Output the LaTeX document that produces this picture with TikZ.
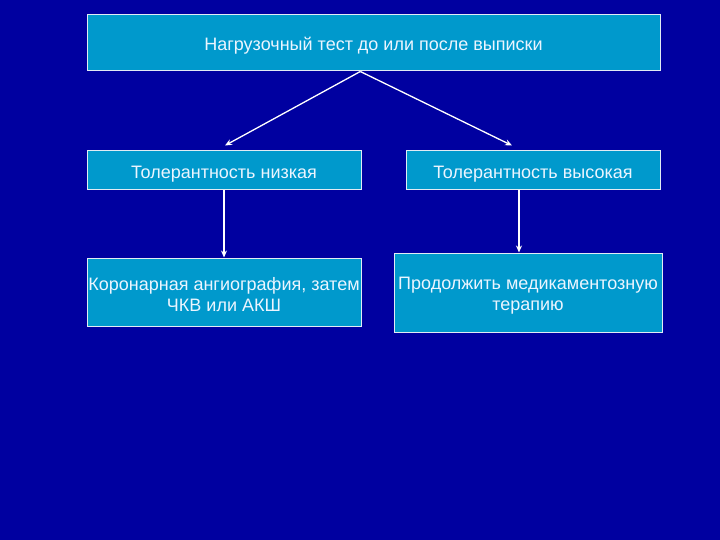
\documentclass[tikz,border=0pt]{standalone}
\usepackage{fontspec}
\setmainfont{Liberation Sans}
\usetikzlibrary{arrows.meta,calc}
\definecolor{bg}{RGB}{0,0,160}
\definecolor{boxfill}{RGB}{0,153,204}
\definecolor{boxline}{RGB}{225,235,245}
\definecolor{txt}{RGB}{235,245,255}
\newcommand\myup{\rule{0pt}{19pt}}
\begin{document}
\begin{tikzpicture}[x=1pt,y=-1pt,
  box/.style={draw=boxline, line width=1pt, fill=boxfill, text=txt, align=center, inner sep=0pt, font=\fontsize{18}{21}\selectfont},
  arr/.style={draw=white, line width=1.3pt, -{Stealth[length=7pt,width=6pt]}}]
\fill[bg] (0,0) rectangle (720,540);
\useasboundingbox (0,0) rectangle (720,540);
\node[box, minimum width=573pt, minimum height=56pt] (top) at (373.5,43) {\myup Нагрузочный тест до или после выписки};
\node[box, minimum width=274pt, minimum height=39pt] (lm) at (224,170.5) {\myup Толерантность низкая};
\node[box, minimum width=254pt, minimum height=39pt] (rm) at (533,170.5) {\myup Толерантность высокая};
\node[box, minimum width=274pt, minimum height=68pt] (lb) at (224,292) {\myup Коронарная ангиография, затем\\ЧКВ или АКШ};
\node[box, minimum width=268pt, minimum height=79pt] (rb) at (528,292.5) {\myup Продолжить медикаментозную\\терапию};
\coordinate (s) at ($(top.south west)!0.477!(top.south east)$);
\coordinate (lt) at ($(lm.north)+(1,-5)$);
\coordinate (rt) at ($(rm.north)+(-21,-5)$);
\draw[arr] (s) -- (lt);
\draw[arr] (s) -- (rt);
\draw[arr] (lm.south) -- (lb.north);
\coordinate (rs) at ($(rm.south west)!0.445!(rm.south east)$);
\draw[arr] (rs) -- (rs |- rb.north);
\end{tikzpicture}
\end{document}
